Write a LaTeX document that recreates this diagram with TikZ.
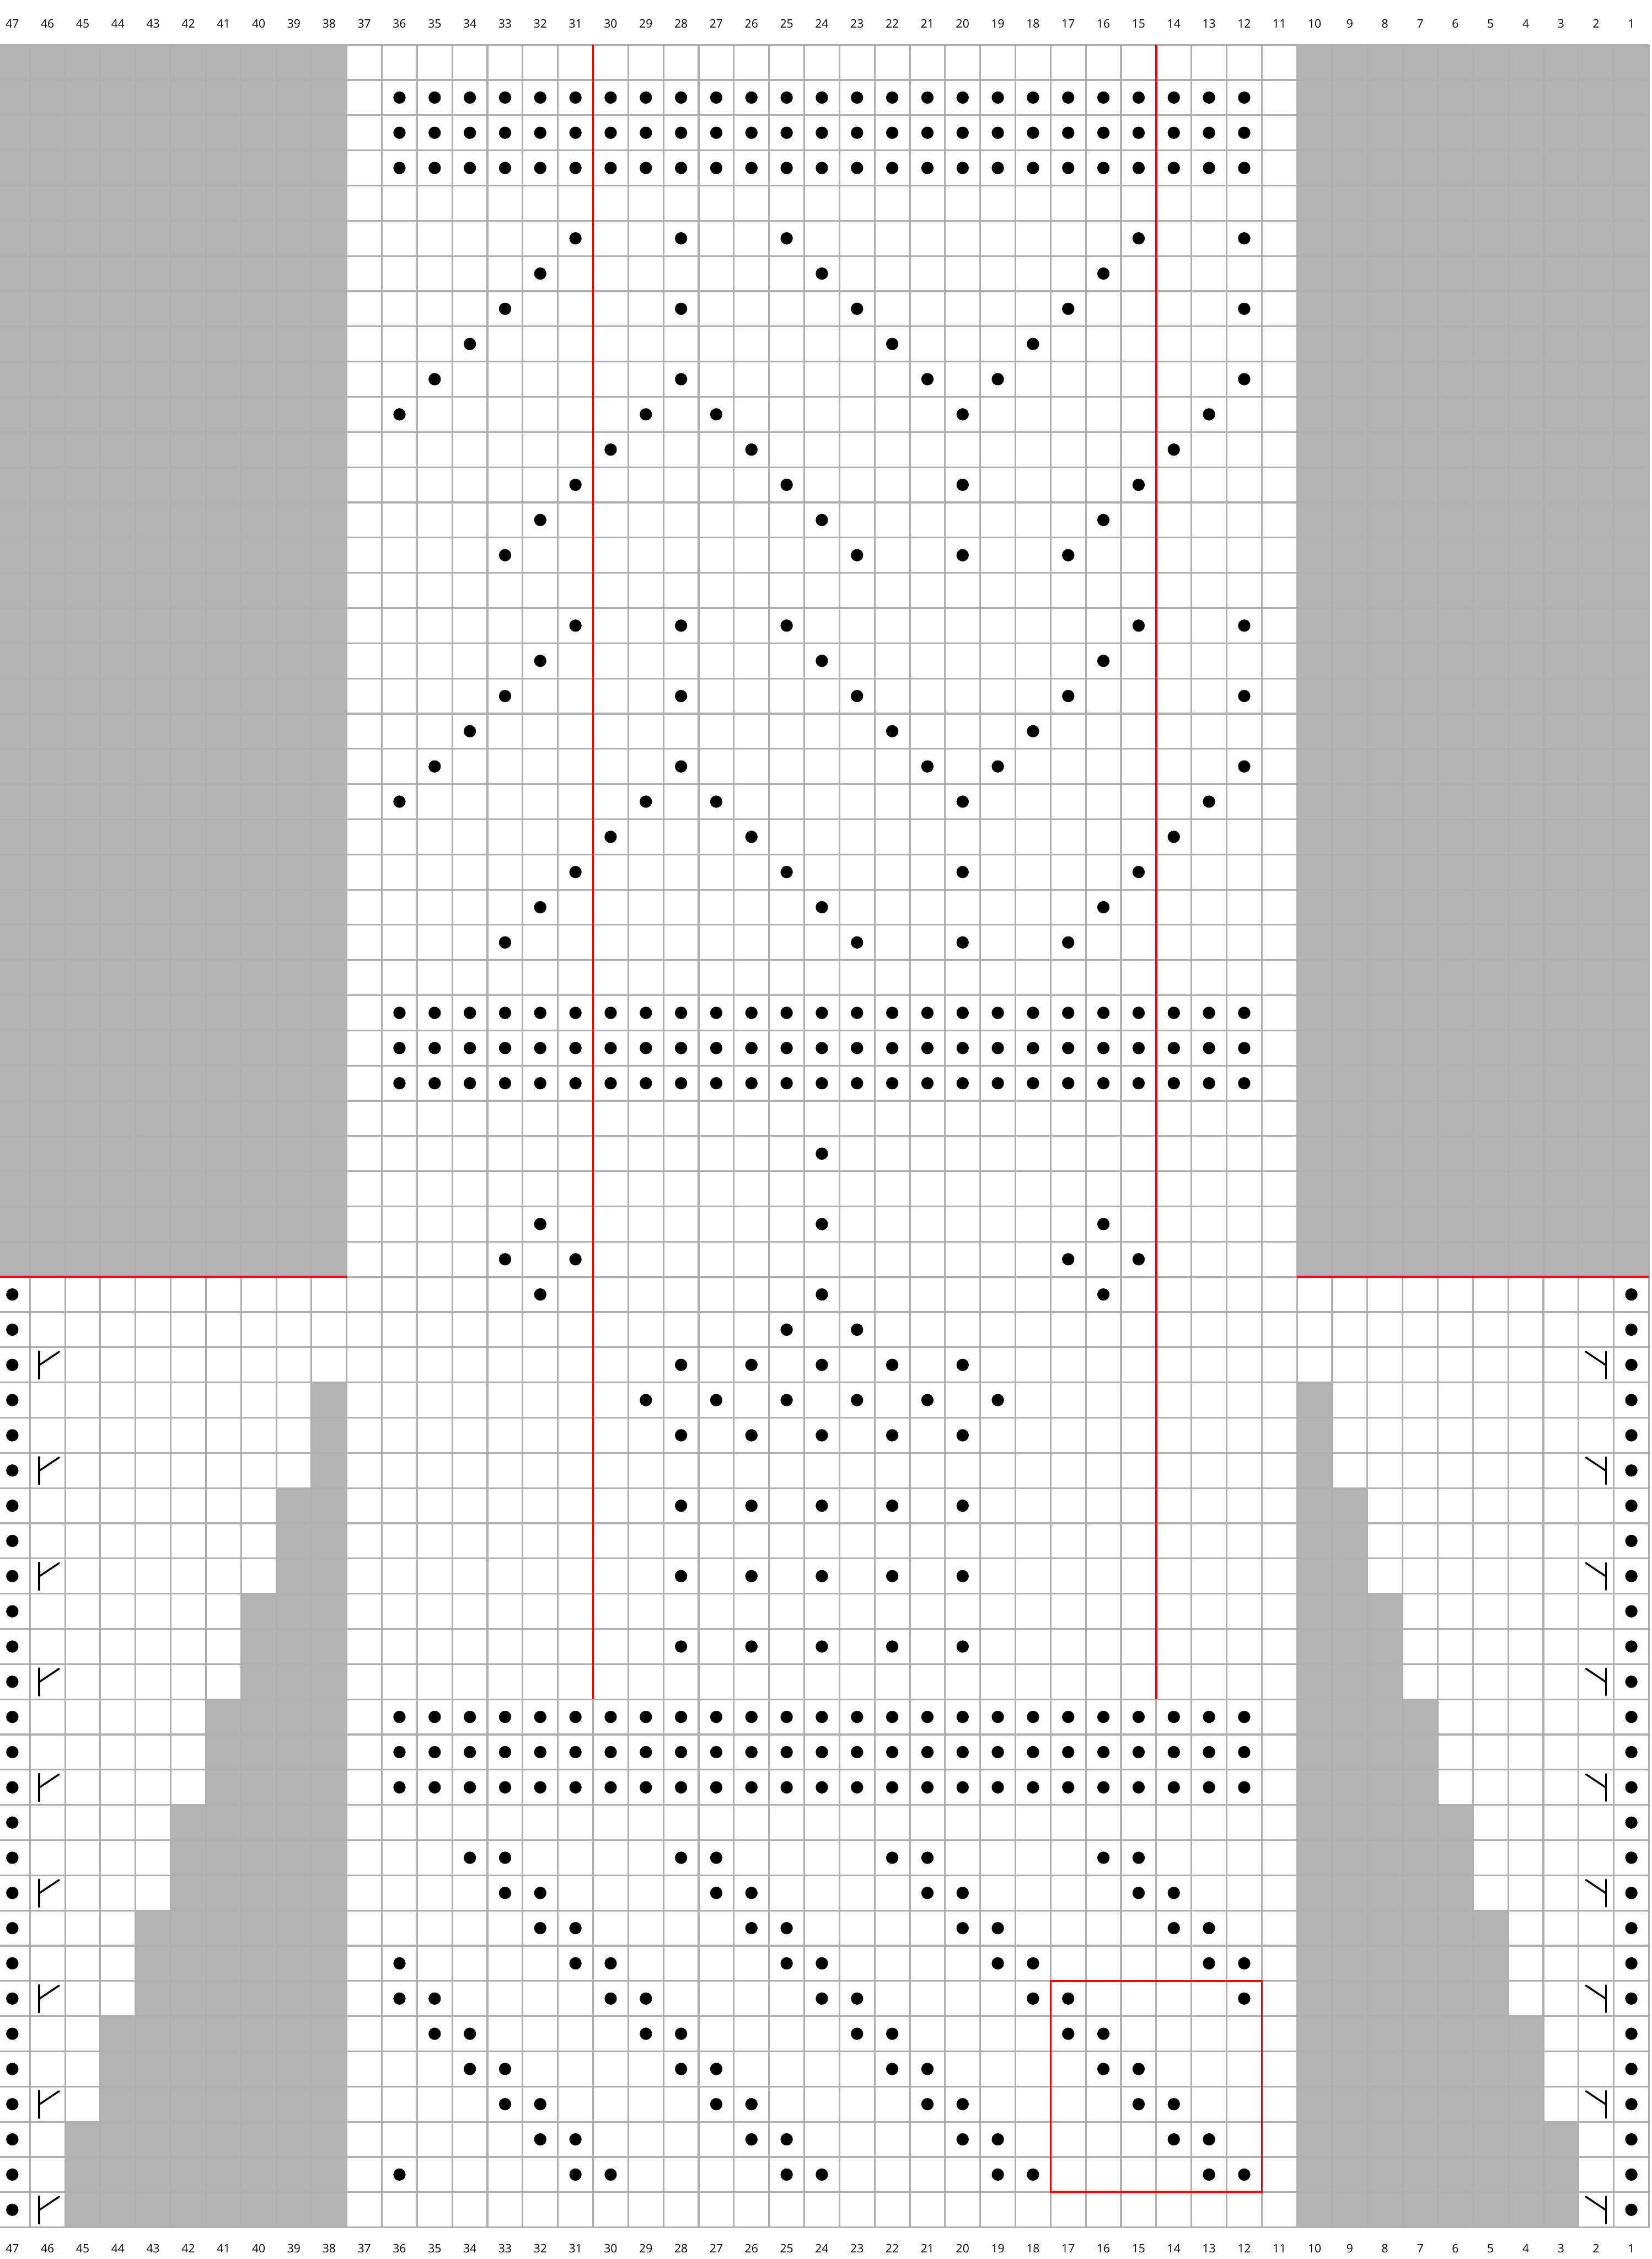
\documentclass[tikz,border=0pt]{standalone}
\usepackage{fontspec}
\setmainfont{Open Sans}
\definecolor{chartgray}{HTML}{B3B3B3}
\definecolor{gridgray}{HTML}{AFAFAF}
\definecolor{chartred}{HTML}{FF0000}
\newcommand\knitdots[2]{\foreach \c in {#2}{\fill[kdot] ({47.5-\c},{62.5-#1}) circle (0.175);}}
\newcommand\decleft[1]{%
  \draw[decsym] (1.26,{62-#1+0.11}) -- (1.26,{62-#1+0.88});
  \draw[decsym] (1.26,{62-#1+0.49}) -- (1.83,{62-#1+0.87});}
\newcommand\decright[1]{%
  \draw[decsym] (45.78,{62-#1+0.11}) -- (45.78,{62-#1+0.88});
  \draw[decsym] (45.78,{62-#1+0.49}) -- (45.21,{62-#1+0.87});}
\begin{document}
\begin{tikzpicture}[x=1cm,y=1cm,
  gridline/.style={draw=gridgray,line width=1.4pt},
  redline/.style={draw=chartred,line width=1.6pt},
  shade/.style={fill=chartgray},
  kdot/.style={fill=black},
  decsym/.style={draw=black,line width=1.5pt,line cap=round},
  collabel/.style={font=\fontsize{9.4}{11}\selectfont,inner sep=0pt}]
\useasboundingbox (0,0) rectangle (46.93,64.17);
\fill[white] (0,0) rectangle (46.93,64.17);
\begin{scope}[shift={(-0.15,0.898)}]
  % grey areas
  \fill[shade] (0,27) rectangle (10,62);
  \fill[shade] (37,27) rectangle (47,62);
  \fill[shade] (2,0) -- (2,3) -- (3,3) -- (3,6) -- (4,6) -- (4,9) -- (5,9) -- (5,12)
     -- (6,12) -- (6,15) -- (7,15) -- (7,18) -- (8,18) -- (8,21) -- (9,21) -- (9,24)
     -- (10,24) -- (10,0) -- cycle;
  \fill[shade] (45,0) -- (45,3) -- (44,3) -- (44,6) -- (43,6) -- (43,9) -- (42,9) -- (42,12)
     -- (41,12) -- (41,15) -- (40,15) -- (40,18) -- (39,18) -- (39,21) -- (38,21) -- (38,24)
     -- (37,24) -- (37,0) -- cycle;
  % grid
  \foreach \i in {0,...,47} {\draw[gridline] (\i,0) -- (\i,62);}
  \foreach \j in {0,...,62} {\draw[gridline] (0,\j) -- (47,\j);}
  % red lines
  \draw[redline] (17,15) -- (17,62);
  \draw[redline] (33,15) -- (33,62);
  \draw[redline] (0,27) -- (10,27);
  \draw[redline] (37,27) -- (47,27);
  \draw[redline] (30,1) rectangle (36,7);
  % dots
  \foreach \r in {2,3,4,28,29,30,48,49,50} {\knitdots{\r}{12,...,36}}
  \foreach \r in {6,17} {\knitdots{\r}{31,28,25,15,12}}
  \foreach \r in {7,14,18,25,34,36} {\knitdots{\r}{32,24,16}}
  \foreach \r in {8,19} {\knitdots{\r}{33,28,23,17,12}}
  \foreach \r in {9,20} {\knitdots{\r}{34,22,18}}
  \foreach \r in {10,21} {\knitdots{\r}{35,28,21,19,12}}
  \foreach \r in {11,22} {\knitdots{\r}{36,29,27,20,13}}
  \foreach \r in {12,23} {\knitdots{\r}{30,26,14}}
  \foreach \r in {13,24} {\knitdots{\r}{31,25,20,15}}
  \foreach \r in {15,26} {\knitdots{\r}{33,23,20,17}}
  \knitdots{32}{24}
  \knitdots{35}{33,31,17,15}
  \knitdots{37}{25,23}
  \foreach \r in {38,40,42,44,46} {\knitdots{\r}{28,26,24,22,20}}
  \knitdots{39}{29,27,25,23,21,19}
  \foreach \r in {52,58} {\knitdots{\r}{34,33,28,27,22,21,16,15}}
  \foreach \r in {53,59} {\knitdots{\r}{33,32,27,26,21,20,15,14}}
  \foreach \r in {54,60} {\knitdots{\r}{32,31,26,25,20,19,14,13}}
  \foreach \r in {55,61} {\knitdots{\r}{36,31,30,25,24,19,18,13,12}}
  \knitdots{56}{36,35,30,29,24,23,18,17,12}
  \knitdots{57}{35,34,29,28,23,22,17,16}
  \foreach \r in {36,...,62} {\knitdots{\r}{47,1}}
  % decrease symbols
  \foreach \r in {38,41,44,47,50,53,56,59,62} {\decleft{\r}\decright{\r}}
  % column numbers
  \foreach \c in {1,...,47} {
    \node[collabel] (t\c) at ({47.5-\c},62.6) {\c};
    \node[collabel] (b\c) at ({47.5-\c},-0.6) {\c};
  }
\end{scope}
\end{tikzpicture}
\end{document}
